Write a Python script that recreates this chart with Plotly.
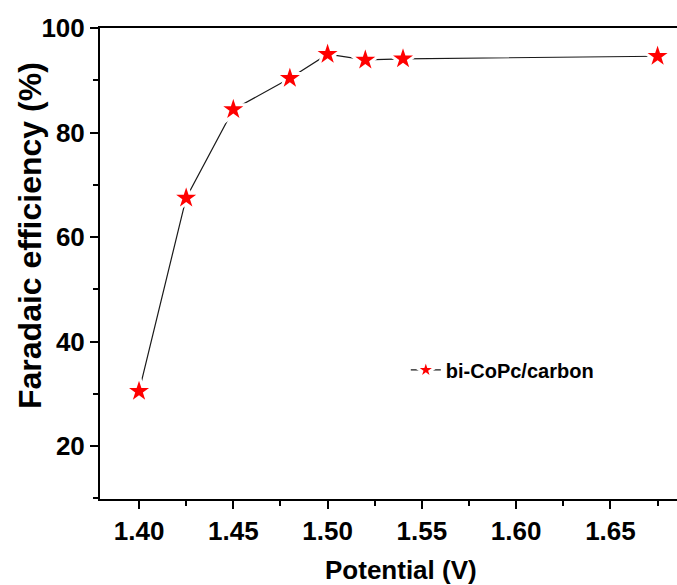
import plotly.graph_objects as go

# Faradaic efficiency vs. applied potential
potential = [1.40, 1.425, 1.45, 1.48, 1.50, 1.52, 1.54, 1.675]
efficiency = [30.5, 67.5, 84.4, 90.4, 95.0, 93.9, 94.1, 94.6]
series_name = "bi-CoPc/carbon"

x_ticks = [1.40, 1.45, 1.50, 1.55, 1.60, 1.65]
y_ticks = [20, 40, 60, 80, 100]

FONT = "Liberation Sans, Arial, sans-serif"

fig = go.Figure()
fig.add_trace(go.Scatter(
    x=potential, y=efficiency, mode="lines+markers", name=series_name,
    line=dict(color="#1a1a1a", width=1.2),
    marker=dict(symbol="star", size=22, color="#ff0000",
                line=dict(color="white", width=3)),
))

axis_common = dict(
    showgrid=False, zeroline=False, showline=True, linecolor="black", linewidth=2,
    ticks="outside", ticklen=8, tickwidth=2, tickcolor="black",
    tickfont=dict(family=FONT, size=26, color="black", weight="bold"),
)

fig.update_xaxes(
    **axis_common, range=[1.3793, 1.6853], tickvals=x_ticks,
    ticktext=[f"{v:.2f}" for v in x_ticks], mirror=True,
    minor=dict(dtick=0.025, tick0=1.40, ticks="outside", ticklen=5, tickwidth=2, tickcolor="black"),
)
fig.update_yaxes(
    **axis_common, range=[9.9, 100], tickvals=y_ticks,
    minor=dict(dtick=10, tick0=10, ticks="outside", ticklen=5, tickwidth=2, tickcolor="black"),
)

# Axis titles
fig.add_annotation(
    text="Potential (V)", xref="paper", yref="paper",
    x=(401 - 100) / 577, y=-(570 - 499) / 471, xanchor="center", yanchor="middle",
    showarrow=False, font=dict(family=FONT, size=26, color="black", weight="bold"),
)
fig.add_annotation(
    text="Faradaic efficiency (%)", xref="paper", yref="paper", textangle=-90,
    x=-(100 - 30) / 577, y=1 - (236 - 28) / 471, xanchor="center", yanchor="middle",
    showarrow=False, font=dict(family=FONT, size=32, color="black", weight="bold"),
)

fig.update_layout(
    width=677, height=585,
    margin=dict(l=100, r=0, t=28, b=86),
    paper_bgcolor="white", plot_bgcolor="white",
    showlegend=True,
    legend=dict(x=0.530, y=0.274, xanchor="left", yanchor="middle",
                bgcolor="rgba(0,0,0,0)", borderwidth=0,
                font=dict(family=FONT, size=20, color="black", weight="bold")),
)

fig.write_html("out.html")
